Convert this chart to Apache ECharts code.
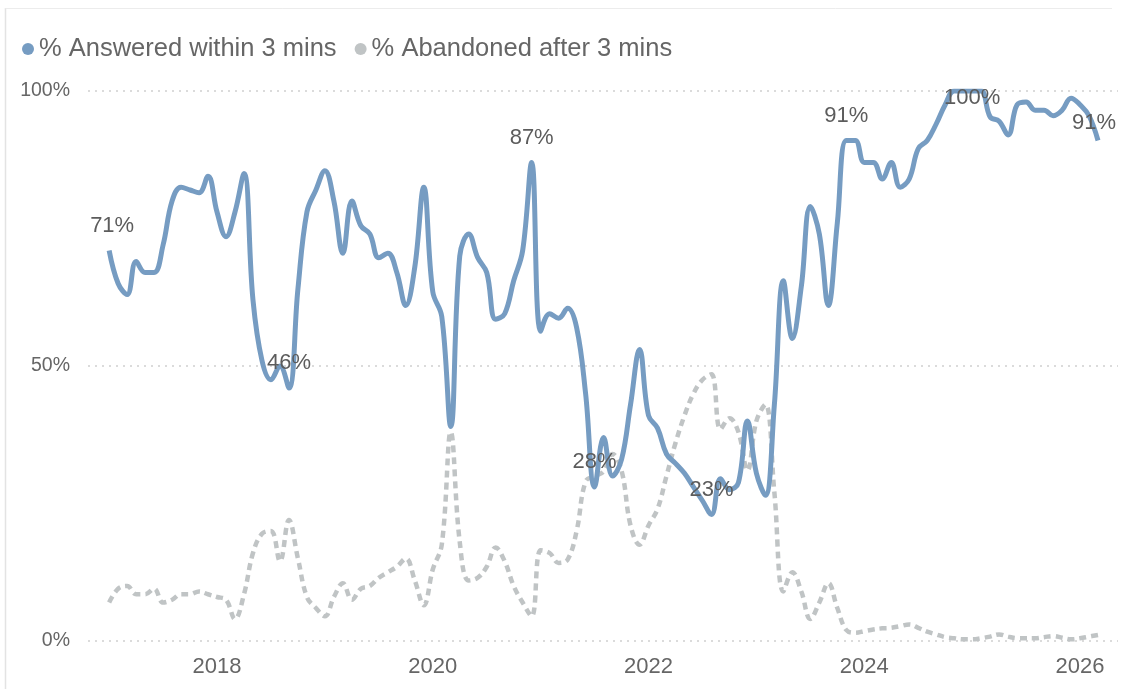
<!DOCTYPE html>
<html>
<head>
<meta charset="utf-8">
<title>Call handling performance</title>
<script src="https://cdn.jsdelivr.net/npm/echarts@6/dist/echarts.min.js"></script>
<style>
  html, body { margin: 0; padding: 0; background: #fff; }
  #chart { width: 1129px; height: 689px; }
</style>
</head>
<body>
<div id="chart"></div>
<script>
// Monthly series, first month January 2017
const firstYear = 2017;
const firstMonth = 0;

const seriesNames = ['% Answered within 3 mins', '% Abandoned after 3 mins'];

const answered = [
  71, 65, 63, 69, 67, 67, 72, 80, 82.5, 82,
  81.5, 84.5, 78, 73.5, 78, 85, 62, 51, 47.5, 50,
  46, 64, 78, 82, 85.5, 80, 70.5, 80, 75.5, 74,
  69.7, 70.5, 67, 61, 68, 82.5, 63.5, 59, 39, 70,
  74, 69.7, 67, 58.5, 59.5, 65.5, 71, 87, 56.3, 59.5,
  58.7, 60.5, 57, 45, 28, 37, 30, 33, 43, 53,
  41, 38.7, 34, 32.3, 30.5, 28, 25.5, 23, 29.5, 27.5,
  28.8, 40, 30.5, 26.5, 43, 65.5, 55, 64.5, 79, 74,
  61, 76, 91, 91, 87, 87, 84, 87, 82.5, 84,
  89.5, 91, 94, 97.5, 100, 100, 100, 100, 95.3, 94.5,
  92, 97.5, 98, 96.5, 96.5, 95.5, 96.5, 98.7, 97.5, 95.5,
  91
];

const abandoned = [
  7, 9.5, 10, 8.5, 8.5, 9.5, 7, 7.5, 8.5, 8.5,
  9, 8.5, 8, 7.5, 4, 8.5, 16, 19.5, 20, 14.5,
  22, 15, 8, 6, 4.5, 8, 10.5, 7.5, 9.5, 10,
  11.5, 12.5, 13.5, 15, 11, 6.5, 13, 17.5, 38, 18,
  11, 11.5, 13.5, 17, 14.5, 10, 7, 4.5, 16.5, 16,
  14.2, 14.8, 20, 29, 30, 30.8, 34, 31, 21, 17.5,
  21, 24, 30, 36, 41, 45, 47.5, 48.5, 38.5, 40.5,
  38, 31, 40, 43, 27, 9, 12.5, 9, 4, 7,
  10.5, 6, 2, 1.5, 1.8, 2.1, 2.3, 2.4, 2.7, 3,
  2.4, 1.7, 1.2, 0.7, 0.5, 0.3, 0.3, 0.5, 0.8, 1.2,
  0.8, 0.5, 0.5, 0.5, 0.7, 0.9, 0.6, 0.3, 0.5, 0.8,
  1.1
];

// Months (by position) whose answered value is written on the line
const labelledPoints = [0, 20, 47, 54, 67, 82, 96, 110];

const yearTicks = ['2018', '2020', '2022', '2024', '2026'];
const percentTicks = [0, 50, 100];

// ---- build the option ----
// x is measured in fractional years so that every month sits on a linear scale
const monthX = i => firstYear + (firstMonth + i) / 12;

const labelTweaks = {
  0: { offset: [3, 0] },
  96: { offset: [0, 32] },
  110: { offset: [-4, 7] }
};

const answeredData = answered.map((v, i) => {
  const item = { value: [monthX(i), v] };
  if (labelledPoints.includes(i)) {
    item.label = Object.assign({ show: true }, labelTweaks[i] || {});
  }
  return item;
});
const abandonedData = abandoned.map((v, i) => [monthX(i), v]);

const FONT = 'Liberation Sans, Arial, sans-serif';
const BLUE = '#769cc2';
const GREY = '#c0c4c5';

const chart = echarts.init(document.getElementById('chart'), null, { renderer: 'canvas' });

chart.setOption({
  animation: false,
  backgroundColor: '#ffffff',
  textStyle: { fontFamily: FONT },
  graphic: [
    { type: 'line', shape: { x1: 5.5, y1: 8, x2: 5.5, y2: 689 }, style: { stroke: '#e3e3e3', lineWidth: 1.5 } },
    { type: 'line', shape: { x1: 5.5, y1: 8.5, x2: 1112, y2: 8.5 }, style: { stroke: '#ececec', lineWidth: 1 } }
  ],
  legend: {
    left: 17,
    top: 31,
    itemWidth: 12,
    itemHeight: 12,
    itemGap: 18,
    data: seriesNames.map(n => ({ name: n, icon: 'circle' })),
    textStyle: { fontSize: 25.5, color: '#666666', fontFamily: FONT }
  },
  grid: { left: 88, right: 11, top: 91, bottom: 48, containLabel: false },
  xAxis: {
    type: 'value',
    min: +yearTicks[0] - 1.196,
    max: +yearTicks[yearTicks.length - 1] + 0.352,
    axisLine: { show: false },
    axisTick: { show: false },
    splitLine: { show: false },
    axisLabel: {
      customValues: yearTicks.map(Number),
      formatter: v => String(Math.round(v)),
      fontSize: 22,
      color: '#666666',
      margin: 15,
      fontFamily: FONT
    }
  },
  yAxis: {
    type: 'value',
    min: percentTicks[0],
    max: percentTicks[percentTicks.length - 1],
    interval: percentTicks[1] - percentTicks[0],
    axisLine: { show: false },
    axisTick: { show: false },
    axisLabel: {
      formatter: '{value}%',
      fontSize: 19.5,
      color: '#666666',
      margin: 18,
      fontFamily: FONT
    },
    splitLine: { lineStyle: { color: '#cfcfcf', width: 1.5, type: [2, 5] } }
  },
  series: [
    {
      name: seriesNames[1],
      type: 'line',
      data: abandonedData,
      smooth: 0.4,
      symbol: 'none',
      itemStyle: { color: GREY },
      lineStyle: { color: GREY, width: 4.5, type: [7, 5] },
      z: 2
    },
    {
      name: seriesNames[0],
      type: 'line',
      data: answeredData,
      smooth: 0.4,
      showSymbol: true,
      showAllSymbol: true,
      symbol: 'circle',
      symbolSize: 0.01,
      itemStyle: { color: BLUE },
      lineStyle: { color: BLUE, width: 5 },
      label: {
        show: false,
        position: 'top',
        distance: 14,
        formatter: p => Math.round(p.value[1]) + '%',
        fontSize: 22,
        color: '#5c5c5c',
        fontFamily: FONT
      },
      z: 3
    }
  ]
});
</script>
</body>
</html>
